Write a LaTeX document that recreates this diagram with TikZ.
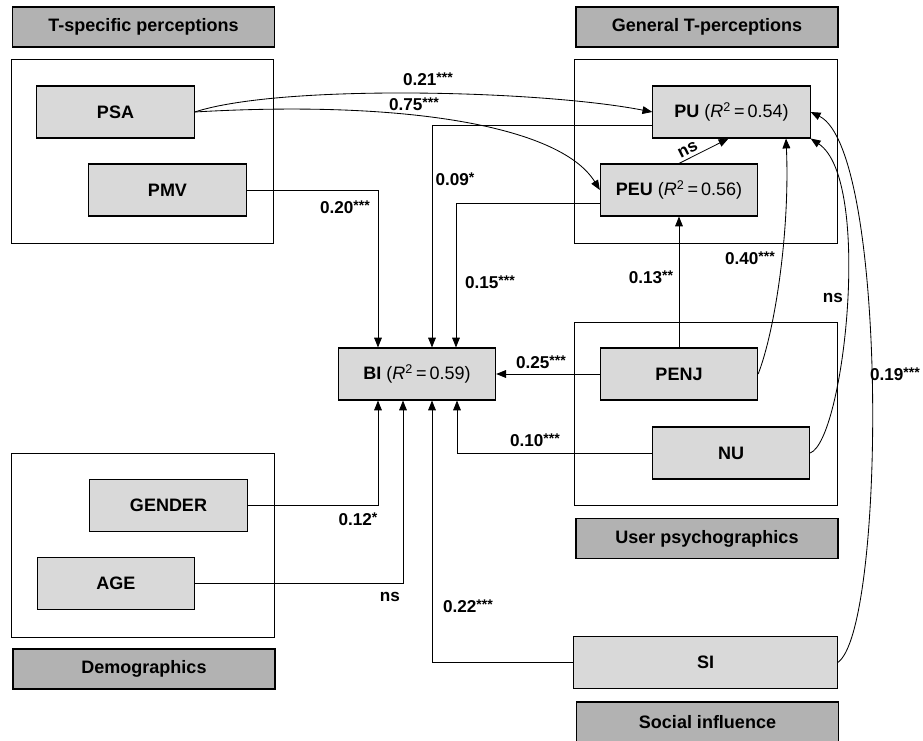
\documentclass[tikz,border=0pt]{standalone}
\usepackage{fontspec}
\setmainfont{Liberation Sans}
\usetikzlibrary{arrows.meta,calc,positioning}
\newcommand{\sig}[1]{\raisebox{0.35ex}{\fontsize{10}{10}\selectfont#1}}
\newcommand{\rsq}[1]{{\mdseries(\textit{R}\textsuperscript{2}\,=\,#1)}}

\begin{document}
\begin{tikzpicture}[x=0.025cm,y=-0.025cm,
  var/.style={draw,line width=0.8pt,fill=black!15,minimum width=3.93cm,minimum height=1.3cm,inner sep=0pt,font=\fontsize{12.8}{15}\selectfont\bfseries},
  hdr/.style={draw,line width=0.8pt,fill=black!30,minimum width=6.55cm,minimum height=1cm,inner sep=0pt,font=\fontsize{12.8}{15}\selectfont\bfseries},
  grp/.style={draw,line width=0.7pt},
  lbl/.style={inner sep=1pt,font=\fontsize{12.2}{14}\selectfont\bfseries},
  arr/.style={line width=0.6pt,-{Triangle[length=7pt,width=5.5pt]}}]
\useasboundingbox (0,0) rectangle (923,741);
% groups
\draw[grp] (11,59) rectangle (273,243);
\draw[grp] (574,59) rectangle (837,243);
\draw[grp] (574,322) rectangle (837,505);
\draw[grp] (11,453) rectangle (274,637);
% headers
\node[hdr] (hTsp) at (143.5,27) {T-specific perceptions};
\node[hdr] (hGen) at (707,27) {General T-perceptions};
\node[hdr] (hUsr) at (707,538.5) {User psychographics};
\node[hdr] (hDem) at (144,669) {Demographics};
\node[hdr] (hSoc) at (707.5,722) {Social influence};
% constructs
\node[var] (PSA) at (115.5,112) {PSA};
\node[var] (PMV) at (167.5,190) {PMV};
\node[var] (PU) at (731.5,112) {PU \rsq{0.54}};
\node[var] (PEU) at (679,190) {PEU \rsq{0.56}};
\node[var] (BI) at (417,374) {BI \rsq{0.59}};
\node[var] (PENJ) at (679,374) {PENJ};
\node[var] (NU) at (731,453) {NU};
\node[var] (GENDER) at (168.5,505.5) {GENDER};
\node[var] (AGE) at (116,583.5) {AGE};
\node[var,minimum width=6.58cm] (SI) at (705.5,662.5) {SI};
% paths
\draw[arr] (PSA.east) .. controls +(86,-28) and +(-113,-22) .. (PU.west);
\draw[arr] (PSA.east) .. controls +(206,-12) and +(-40,-65) .. (PEU.west);
\draw[arr] (PMV.east) -| ($(BI.north)+(-39,0)$);
\draw[arr] ($(PU.south west)+(0,-13)$) -| ($(BI.north)+(15,0)$);
\draw[arr] ($(PEU.south west)+(0,-13)$) -| ($(BI.north)+(39,0)$);
\draw[arr] (PEU.north) -- node[lbl,sloped,above=1pt,pos=0.25] (lPEUPU) {ns} ($(PU.south)+(-3,0)$);
\draw[arr] (PENJ.north) -- (PEU.south);
\draw[arr] (PENJ.east) .. controls +(17,-44) and +(4,92) .. (PU.south -| 786,0);
\draw[arr] (NU.east) .. controls +(34,-13) and +(62,41) .. (PU.south east);
\draw[arr] (SI.east) .. controls +(48,-32) and +(78,38) .. (PU.east);
\draw[arr] (PENJ.west) -- (BI.east);
\draw[arr] (NU.west) -| ($(BI.south)+(40,0)$);
\draw[arr] (GENDER.east) -| ($(BI.south)+(-39,0)$);
\draw[arr] (AGE.east) -| ($(BI.south)+(-14,0)$);
\draw[arr] (SI.west) -| ($(BI.south)+(15,0)$);
% coefficients
\node[lbl] (lPSAPU) at (428,79) {0.21\sig{***}};
\node[lbl] (lPSAPEU) at (414,104) {0.75\sig{***}};
\node[lbl] (lPMV) at (345,207) {0.20\sig{***}};
\node[lbl] (lPUBI) at (455,179) {0.09\sig{*}};
\node[lbl] (lPEUBI) at (490,282) {0.15\sig{***}};
\node[lbl] (lPENJPEU) at (651,277) {0.13\sig{**}};
\node[lbl] (lPENJPU) at (750,258) {0.40\sig{***}};
\node[lbl] (lNUPU) at (833,298) {ns};
\node[lbl] (lSIPU) at (895,374) {0.19\sig{***}};
\node[lbl] (lPENJBI) at (541,362) {0.25\sig{***}};
\node[lbl] (lNUBI) at (535,440) {0.10\sig{***}};
\node[lbl] (lGEN) at (358,519) {0.12\sig{*}};
\node[lbl] (lAGE) at (390,597) {ns};
\node[lbl] (lSIBI) at (468,606) {0.22\sig{***}};
\end{tikzpicture}
\end{document}
